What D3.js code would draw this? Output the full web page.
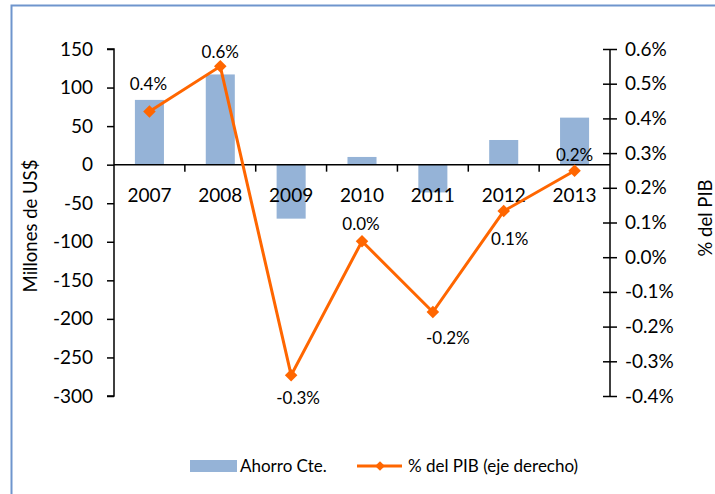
<!DOCTYPE html>
<html><head><meta charset="utf-8">
<script src="https://cdn.jsdelivr.net/npm/d3@7"></script>
<style>
html,body{margin:0;padding:0;background:#fff;}
text{font-family:Lato,"Open Sans",sans-serif;fill:#000;}
</style></head>
<body><svg id="c" width="715" height="494"></svg>
<script>
const years = ["2007","2008","2009","2010","2011","2012","2013"];
const ahorro = [84, 117, -70, 10, -36, 32, 61];
const pib = [0.42, 0.55, -0.34, 0.046, -0.158, 0.133, 0.249];
const pibLabels = ["0.4%","0.6%","-0.3%","0.0%","-0.2%","0.1%","0.2%"];
const leftTicks = [150,100,50,0,-50,-100,-150,-200,-250,-300];
const rightTicks = [0.6,0.5,0.4,0.3,0.2,0.1,0.0,-0.1,-0.2,-0.3,-0.4];

const svg = d3.select("#c");
svg.append("rect").attr("x",11.5).attr("y",5.5).attr("width",760).attr("height",600)
  .attr("fill","none").attr("stroke","#6f95cd").attr("stroke-width",2);

const L = 114, R = 610, T = 49, B = 396;
const x = d3.scaleBand().domain(years).range([L,R]).paddingInner(0.59).paddingOuter(0.295);
const xc = d3.scaleBand().domain(years).range([L,R]);
const yL = d3.scaleLinear().domain([-300,150]).range([B,T]);
const yR = d3.scaleLinear().domain([-0.4,0.6]).range([B,T]);
const hy = s => String(s).replace("\u2212","-");

// bars
svg.append("g").selectAll("rect").data(years).join("rect")
  .attr("x", d=>x(d)).attr("width", x.bandwidth())
  .attr("y", (d,i)=>yL(Math.max(0,ahorro[i])))
  .attr("height", (d,i)=>Math.abs(yL(ahorro[i])-yL(0)))
  .attr("fill","#95b3d7");

// left axis
const ga = svg.append("g").attr("transform",`translate(${L},0)`)
  .call(d3.axisLeft(yL).tickValues(leftTicks).tickSize(7).tickPadding(14).tickFormat(d=>hy(d3.format("d")(d))));
ga.select(".domain").attr("d",`M-7,${T}H0V${B}H-7`).attr("stroke","#000").attr("stroke-width",1.5);
ga.selectAll(".tick line").attr("stroke","#000").attr("stroke-width",1.5);
ga.selectAll(".tick text").style("font-size","19px").attr("fill","#000");

// right axis
const gr = svg.append("g").attr("transform",`translate(${R},0)`)
  .call(d3.axisRight(yR).tickValues(rightTicks).tickSize(0).tickPadding(15).tickFormat(d=>hy(d3.format(".1f")(d))+"%"));
gr.select(".domain").attr("d",`M0,${T}V${B}`).attr("stroke","#000").attr("stroke-width",1.5);
gr.selectAll(".tick").append("line").attr("x1",-7).attr("x2",7).attr("stroke","#000").attr("stroke-width",1.5);
gr.selectAll(".tick text").style("font-size","19px").attr("fill","#000");

// x axis at zero
const gx = svg.append("g").attr("transform",`translate(0,${yL(0)})`);
gx.append("line").attr("x1",L).attr("x2",R).attr("stroke","#000").attr("stroke-width",1.5);
gx.selectAll("line.t").data(years.slice(1)).join("line").attr("class","t")
  .attr("x1",d=>xc(d)).attr("x2",d=>xc(d)).attr("y1",0).attr("y2",7)
  .attr("stroke","#000").attr("stroke-width",1.5);
gx.selectAll("text").data(years).join("text")
  .attr("x",d=>xc(d)+xc.bandwidth()/2).attr("y",37)
  .attr("text-anchor","middle").style("font-size","19px").text(d=>d);

// line
const cx = d => xc(d)+xc.bandwidth()/2;
svg.append("path").datum(years)
  .attr("d", d3.line().x(d=>cx(d)).y((d,i)=>yR(pib[i])))
  .attr("fill","none").attr("stroke","#ff6600").attr("stroke-width",3);
svg.append("g").selectAll("path").data(years).join("path")
  .attr("transform",(d,i)=>`translate(${cx(d)},${yR(pib[i])})`)
  .attr("d",d3.symbol(d3.symbolDiamond2,100)).attr("fill","#ff6600");

// data labels (offsets relative to markers, as placed in the original)
const lblDx = [-1, 0, 7, -1, 15, 6, 0];
const lblDy = [-27, -14, 23, -17, 26, 28, -16];
svg.append("g").selectAll("text").data(years).join("text")
  .attr("x",(d,i)=>cx(d)+lblDx[i])
  .attr("y",(d,i)=>yR(pib[i])+lblDy[i])
  .attr("dy","0.35em")
  .attr("text-anchor","middle").style("font-size","17px").text((d,i)=>pibLabels[i]);

// axis titles
svg.append("text").attr("transform","translate(37,226) rotate(-90)")
  .attr("text-anchor","middle").style("font-size","18.5px").text("Millones de US$");
svg.append("text").attr("transform","translate(712,218) rotate(-90)")
  .attr("text-anchor","middle").style("font-size","18.5px").text("% del PIB");

// legend
const lg = svg.append("g");
lg.append("rect").attr("x",190).attr("y",460).attr("width",47).attr("height",12).attr("fill","#95b3d7");
lg.append("text").attr("x",240).attr("y",472).style("font-size","17px").text("Ahorro Cte.");
lg.append("line").attr("x1",357).attr("x2",402).attr("y1",466).attr("y2",466).attr("stroke","#ff6600").attr("stroke-width",3);
lg.append("path").attr("transform","translate(380,466)").attr("d",d3.symbol(d3.symbolDiamond2,60)).attr("fill","#ff6600");
lg.append("text").attr("x",408).attr("y",472).style("font-size","17px").text("% del PIB (eje derecho)");
</script></body></html>
